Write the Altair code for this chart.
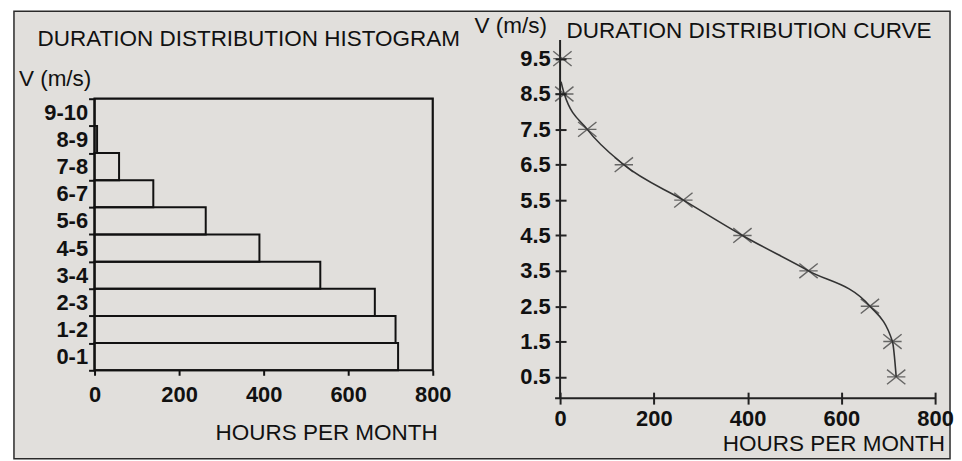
import json
import altair as alt
import pandas as pd

# ---------------- data ----------------
ranges = ["0-1", "1-2", "2-3", "3-4", "4-5", "5-6", "6-7", "7-8", "8-9", "9-10"]
range_low = [0, 1, 2, 3, 4, 5, 6, 7, 8, 9]
range_high = [1, 2, 3, 4, 5, 6, 7, 8, 9, 10]
hours_hist = [718, 712, 663, 534, 390, 263, 139, 58, 6, 0]

speed_mid = [0.5, 1.5, 2.5, 3.5, 4.5, 5.5, 6.5, 7.5, 8.5, 9.5]
hours_points = [717, 709, 661, 530, 389, 263, 136, 58, 9, 5]

curve_speed = [0.5, 1.5, 2.5, 3.5, 4.5, 5.5, 6.5, 7.5, 8.5, 8.85]
curve_hours = [717, 709, 661, 530, 389, 263, 136, 58, 9, 2]

hour_ticks = [0, 200, 400, 600, 800]

# ---------------- style ----------------
BG = "#e1dfdc"
INK = "#111111"
FONT = "Liberation Sans"
TITLE_SIZE = 22.6
LABEL_SIZE = 22

hist = pd.DataFrame({"range": ranges, "lo": range_low, "hi": range_high, "hours": hours_hist})
frame = pd.DataFrame({"x0": [0], "x1": [800], "y0": [0], "y1": [10]})
pts = pd.DataFrame({"speed": speed_mid, "hours": hours_points})
curve = pd.DataFrame({"speed": curve_speed, "hours": curve_hours})
one = pd.DataFrame({"k": [0]})


def label(text, x, y, align):
    return alt.Chart(one).mark_text(
        text=text, align=align, baseline="alphabetic", font=FONT,
        fontSize=TITLE_SIZE, color=INK, clip=False
    ).encode(x=alt.value(x), y=alt.value(y))


# ---------------- left panel: histogram ----------------
xs_l = alt.Scale(domain=[0, 800], nice=False, zero=False)
ys_l = alt.Scale(domain=[-1.026, 12.161], nice=False, zero=False)
label_expr = json.dumps(ranges + [""]) + "[round(datum.value)]"
xax_l = alt.Axis(values=hour_ticks, offset=-28, tickSize=5, tickWidth=2, tickColor=INK,
                 labelPadding=9, domain=False, grid=False, title=None, zindex=1,
                 labelFlush=False, labelOverlap=False)
yax_l = alt.Axis(values=list(range(11)), tickSize=6, tickWidth=2, tickColor=INK,
                 labelPadding=1, labelOffset=-13.65, labelExpr=label_expr,
                 domain=False, grid=False, title=None, zindex=1,
                 labelFlush=False, labelOverlap=False)

bg = alt.Chart(one).mark_rect(fill=BG, stroke="#2a2a2a", strokeWidth=1.5, clip=False).encode(
    x=alt.value(-81), x2=alt.value(860), y=alt.value(-29), y2=alt.value(421)
)

frame_l = alt.Chart(frame).mark_rect(fill="transparent", stroke=INK, strokeWidth=2.2).encode(
    x=alt.X("x0:Q", scale=xs_l, axis=xax_l),
    x2="x1:Q",
    y=alt.Y("y0:Q", scale=ys_l, axis=yax_l),
    y2="y1:Q",
)

bars = alt.Chart(hist).mark_rect(fill="transparent", stroke=INK, strokeWidth=2).encode(
    x=alt.X("hours:Q", scale=xs_l, axis=xax_l),
    x2=alt.X2(datum=0),
    y=alt.Y("lo:Q", scale=ys_l, axis=yax_l),
    y2="hi:Q",
)

left = alt.layer(
    bg, frame_l, bars,
    label("DURATION DISTRIBUTION HISTOGRAM", 155, 6, "center"),
    label("V (m/s)", -76, 46, "left"),
    label("HOURS PER MONTH", 345, 402, "right"),
).properties(width=340, height=360)

# ---------------- right panel: curve ----------------
xs_r = alt.Scale(domain=[0, 800], nice=False, zero=False)
ys_r = alt.Scale(domain=[-0.1, 10.026], nice=False, zero=False)
xax_r = alt.Axis(values=hour_ticks, offset=-6, tickSize=12, tickWidth=2, tickColor="#222",
                 labelPadding=5, domain=False, grid=False, title=None, zindex=1,
                 labelFlush=False, labelOverlap=False)
yax_r = alt.Axis(values=speed_mid, offset=-6, tickSize=11, tickWidth=2, tickColor="#222",
                 labelPadding=5, format=".1f", domain=False, grid=False, title=None, zindex=1,
                 labelFlush=False, labelOverlap=False)

yline = alt.Chart(one).mark_rule(color="#222", strokeWidth=2).encode(
    x=alt.value(0), y=alt.value(0), y2=alt.value(360)
)
xline = alt.Chart(one).mark_rule(color="#222", strokeWidth=2).encode(
    x=alt.value(-5), x2=alt.value(377), y=alt.value(360)
)

line = alt.Chart(curve).mark_line(interpolate="monotone", color="#333", strokeWidth=1.6).encode(
    x=alt.X("hours:Q", scale=xs_r, axis=xax_r),
    y=alt.Y("speed:Q", scale=ys_r, axis=yax_r),
)

star = "M-1,-0.8L1,0.8M-1,0.8L1,-0.8M-1,0L1,0"
marks = alt.Chart(pts).mark_point(shape=star, size=340, filled=False, stroke="#333",
                                  strokeWidth=1.4).encode(
    x=alt.X("hours:Q", scale=xs_r, axis=xax_r),
    y=alt.Y("speed:Q", scale=ys_r, axis=yax_r),
)

right = alt.layer(
    yline, xline, line, marks,
    label("DURATION DISTRIBUTION CURVE", 190, -2, "center"),
    label("V (m/s)", -86, -7, "left"),
    label("HOURS PER MONTH", 387, 413, "right"),
).properties(width=377, height=360)

chart = alt.hconcat(
    left, right, spacing=128, bounds="flush",
    padding={"left": 4, "top": 0, "right": 0, "bottom": 0},
    background="white",
).configure_view(stroke="transparent").configure_axis(
    labelFont=FONT, labelFontSize=LABEL_SIZE, labelColor=INK, labelFontWeight="bold"
)

chart.save("out.html", embed_options={"renderer": "svg", "actions": False})
